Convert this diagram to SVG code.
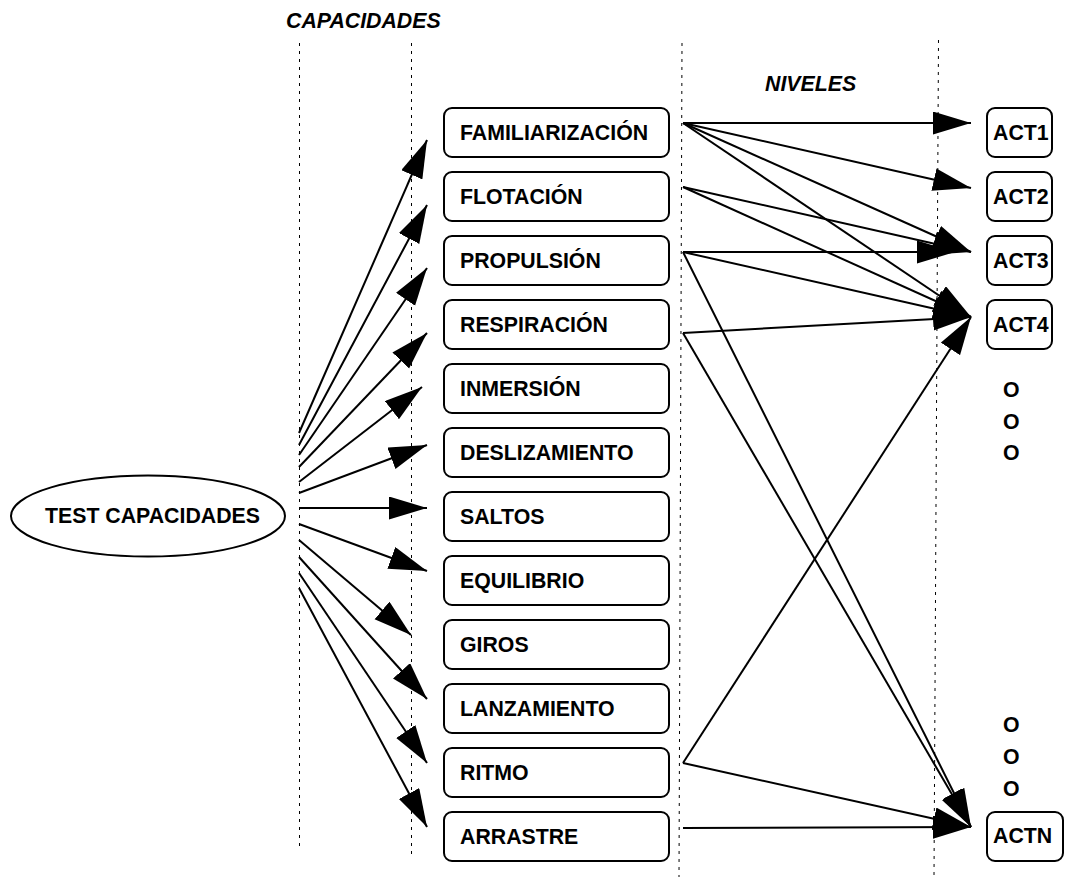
<svg xmlns="http://www.w3.org/2000/svg" width="1065" height="877" viewBox="0 0 1065 877">
<style>
.t{font-family:"Liberation Sans",Arial,sans-serif;font-weight:bold;font-size:21.3px;fill:#000}
.h{font-style:italic}
.box{fill:#fff;stroke:#000;stroke-width:2}
.dot{stroke:#000;stroke-width:1;stroke-dasharray:3 5;fill:none}
.c{stroke:#000;stroke-width:2;fill:none;marker-end:url(#ah)}
</style>
<defs>
<marker id="ah" markerUnits="userSpaceOnUse" markerWidth="40" markerHeight="24" refX="38" refY="11.5" orient="auto">
<path d="M0,0 L38,11.5 L0,23 z" fill="#000"/>
</marker>
</defs>
<rect width="1065" height="877" fill="#fff"/>
<g id="guides">
<line class="dot" x1="299.5" y1="43" x2="299.5" y2="847"/>
<line class="dot" x1="411.5" y1="43" x2="411.5" y2="858"/>
<line class="dot" x1="682" y1="43" x2="679" y2="877"/>
<line class="dot" x1="938.5" y1="40" x2="934" y2="877"/>
<text class="t h" x="286" y="28">CAPACIDADES</text>
<text class="t h" x="765" y="91">NIVELES</text>
</g>
<g id="test">
<ellipse class="box" cx="148" cy="516" rx="137" ry="40.5"/>
<text class="t" x="45" y="523">TEST CAPACIDADES</text>
</g>
<g id="cap-familiarizacion"><rect class="box" x="444" y="108" width="225" height="49" rx="8"/><text class="t" x="460" y="140">FAMILIARIZACIÓN</text></g>
<g id="cap-flotacion"><rect class="box" x="444" y="172" width="225" height="49" rx="8"/><text class="t" x="460" y="204">FLOTACIÓN</text></g>
<g id="cap-propulsion"><rect class="box" x="444" y="236" width="225" height="49" rx="8"/><text class="t" x="460" y="268">PROPULSIÓN</text></g>
<g id="cap-respiracion"><rect class="box" x="444" y="300" width="225" height="49" rx="8"/><text class="t" x="460" y="332">RESPIRACIÓN</text></g>
<g id="cap-inmersion"><rect class="box" x="444" y="364" width="225" height="49" rx="8"/><text class="t" x="460" y="396">INMERSIÓN</text></g>
<g id="cap-deslizamiento"><rect class="box" x="444" y="428" width="225" height="49" rx="8"/><text class="t" x="460" y="460">DESLIZAMIENTO</text></g>
<g id="cap-saltos"><rect class="box" x="444" y="492" width="225" height="49" rx="8"/><text class="t" x="460" y="524">SALTOS</text></g>
<g id="cap-equilibrio"><rect class="box" x="444" y="556" width="225" height="49" rx="8"/><text class="t" x="460" y="588">EQUILIBRIO</text></g>
<g id="cap-giros"><rect class="box" x="444" y="620" width="225" height="49" rx="8"/><text class="t" x="460" y="652">GIROS</text></g>
<g id="cap-lanzamiento"><rect class="box" x="444" y="684" width="225" height="49" rx="8"/><text class="t" x="460" y="716">LANZAMIENTO</text></g>
<g id="cap-ritmo"><rect class="box" x="444" y="748" width="225" height="49" rx="8"/><text class="t" x="460" y="780">RITMO</text></g>
<g id="cap-arrastre"><rect class="box" x="444" y="812" width="225" height="49" rx="8"/><text class="t" x="460" y="844">ARRASTRE</text></g>
<g id="act1"><rect class="box" x="987" y="108" width="65" height="49" rx="8"/><text class="t" x="993" y="140">ACT1</text></g>
<g id="act2"><rect class="box" x="987" y="172" width="65" height="49" rx="8"/><text class="t" x="993" y="204">ACT2</text></g>
<g id="act3"><rect class="box" x="987" y="236" width="65" height="49" rx="8"/><text class="t" x="993" y="268">ACT3</text></g>
<g id="act4"><rect class="box" x="987" y="300" width="65" height="49" rx="8"/><text class="t" x="993" y="332">ACT4</text></g>
<g id="actn"><rect class="box" x="987" y="812" width="76" height="49" rx="8"/><text class="t" x="993" y="843">ACTN</text></g>
<g id="ellipsis">
<text class="t" x="1003" y="397" font-size="19">O</text>
<text class="t" x="1003" y="429" font-size="19">O</text>
<text class="t" x="1003" y="460" font-size="19">O</text>
<text class="t" x="1003" y="732" font-size="19">O</text>
<text class="t" x="1003" y="764" font-size="19">O</text>
<text class="t" x="1003" y="796" font-size="19">O</text>
</g>
<g id="connectors">
<line class="c" x1="299" y1="433" x2="427" y2="140"/>
<line class="c" x1="299" y1="445" x2="427" y2="205"/>
<line class="c" x1="299" y1="455" x2="427" y2="268"/>
<line class="c" x1="299" y1="467" x2="427" y2="333"/>
<line class="c" x1="299" y1="482" x2="422" y2="387"/>
<line class="c" x1="299" y1="493" x2="427" y2="445"/>
<line class="c" x1="299" y1="508" x2="427" y2="508"/>
<line class="c" x1="299" y1="524" x2="427" y2="571"/>
<line class="c" x1="299" y1="540" x2="411" y2="635"/>
<line class="c" x1="299" y1="557" x2="427" y2="699"/>
<line class="c" x1="299" y1="573" x2="427" y2="763"/>
<line class="c" x1="299" y1="588" x2="427" y2="827"/>
<line class="c" x1="683" y1="123" x2="971" y2="123"/>
<line class="c" x1="683" y1="123" x2="971" y2="188"/>
<line class="c" x1="683" y1="123" x2="971" y2="252"/>
<line class="c" x1="683" y1="123" x2="971" y2="317"/>
<line class="c" x1="683" y1="187" x2="971" y2="252"/>
<line class="c" x1="683" y1="187" x2="971" y2="317"/>
<line class="c" x1="683" y1="252" x2="955" y2="252"/>
<line class="c" x1="683" y1="252" x2="971" y2="317"/>
<line class="c" x1="683" y1="252" x2="971" y2="827"/>
<line class="c" x1="683" y1="333" x2="971" y2="317"/>
<line class="c" x1="683" y1="333" x2="971" y2="827"/>
<line class="c" x1="683" y1="763" x2="971" y2="317"/>
<line class="c" x1="683" y1="763" x2="971" y2="827"/>
<line class="c" x1="683" y1="828" x2="971" y2="827"/>
</g>
</svg>
